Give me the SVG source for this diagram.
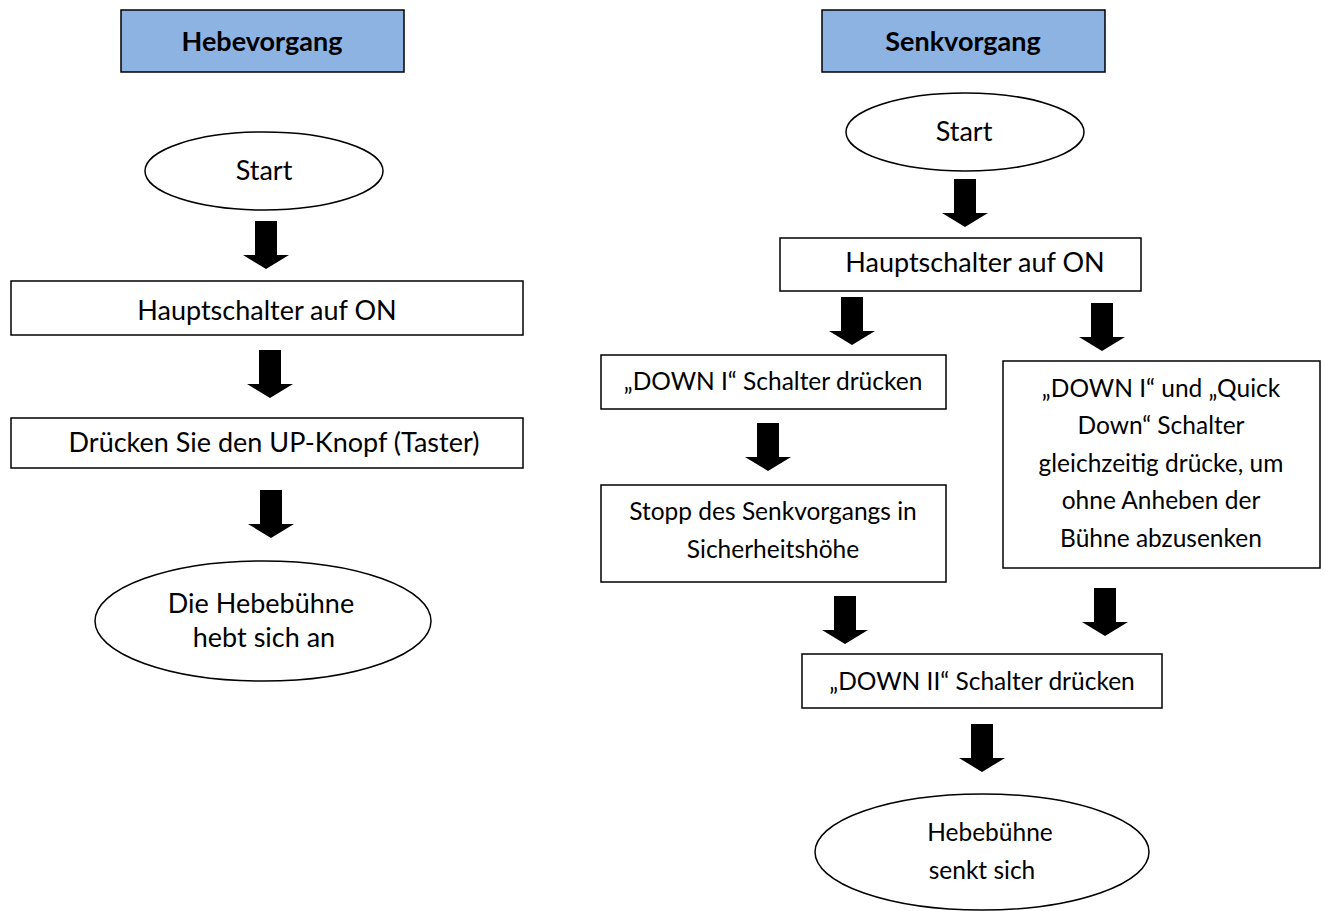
<svg xmlns="http://www.w3.org/2000/svg" xmlns:xlink="http://www.w3.org/1999/xlink" width="1325" height="911" viewBox="0 0 1325 911">
<style>
.hdr{fill:#8DB3E2;stroke:#000;stroke-width:1.5}
.box{fill:#fff;stroke:#000;stroke-width:1.5}
.t{font-family:Lato,"Liberation Sans",sans-serif;font-size:27px;fill:#000;text-anchor:middle}
.s{font-size:24.5px}
.b{font-weight:bold}
</style>
<defs>
<path id="arr" d="M-11,0 H11 V34 H23 L0,48 L-23,34 H-11 Z" fill="#000"/>
</defs>
<rect width="1325" height="911" fill="#fff"/>
<g id="connectors">
<use href="#arr" x="266" y="221"/>
<use href="#arr" x="270" y="350"/>
<use href="#arr" x="271" y="490"/>
<use href="#arr" x="965" y="179"/>
<use href="#arr" x="852" y="297"/>
<use href="#arr" x="1102" y="303"/>
<use href="#arr" x="768" y="423"/>
<use href="#arr" x="845" y="596"/>
<use href="#arr" x="1105" y="588"/>
<use href="#arr" x="982" y="724"/>
</g>
<g id="hdr-hebe"><rect class="hdr" x="121" y="10" width="283" height="62"/><text class="t b" x="262" y="51">Hebevorgang</text></g>
<g id="hdr-senk"><rect class="hdr" x="822" y="10" width="283" height="62"/><text class="t b" x="963" y="51">Senkvorgang</text></g>
<g id="l-start"><ellipse class="box" cx="264" cy="171" rx="119" ry="39"/><text class="t" x="264" y="180">Start</text></g>
<g id="l-haupt"><rect class="box" x="11" y="281" width="512" height="54"/><text class="t" x="267" y="320">Hauptschalter auf ON</text></g>
<g id="l-up"><rect class="box" x="11" y="418" width="512" height="50"/><text class="t" x="274" y="452">Drücken Sie den UP-Knopf (Taster)</text></g>
<g id="l-end"><ellipse class="box" cx="263" cy="621" rx="168" ry="60"/><text class="t" x="261" y="613">Die Hebebühne</text><text class="t" x="264" y="647">hebt sich an</text></g>
<g id="r-start"><ellipse class="box" cx="965" cy="132" rx="119" ry="39"/><text class="t" x="964" y="141">Start</text></g>
<g id="r-haupt"><rect class="box" x="780" y="238" width="361" height="53"/><text class="t" x="975" y="272">Hauptschalter auf ON</text></g>
<g id="r-down1"><rect class="box" x="601" y="355" width="345" height="54"/><text class="t s" x="773" y="390">„DOWN I“ Schalter drücken</text></g>
<g id="r-quick"><rect class="box" x="1003" y="361" width="317" height="207"/>
<text class="t s" x="1161" y="397">„DOWN I“ und „Quick</text>
<text class="t s" x="1161" y="434">Down“ Schalter</text>
<text class="t s" x="1161" y="472">gleichzeitig drücke, um</text>
<text class="t s" x="1161" y="509">ohne Anheben der</text>
<text class="t s" x="1161" y="547">Bühne abzusenken</text></g>
<g id="r-stopp"><rect class="box" x="601" y="485" width="345" height="97"/><text class="t s" x="773" y="520">Stopp des Senkvorgangs in</text><text class="t s" x="773" y="558">Sicherheitshöhe</text></g>
<g id="r-down2"><rect class="box" x="802" y="654" width="360" height="54"/><text class="t s" x="982" y="690">„DOWN II“ Schalter drücken</text></g>
<g id="r-end"><ellipse class="box" cx="982" cy="852" rx="167" ry="58"/><text class="t s" x="990" y="841">Hebebühne</text><text class="t s" x="982" y="879">senkt sich</text></g>
</svg>
